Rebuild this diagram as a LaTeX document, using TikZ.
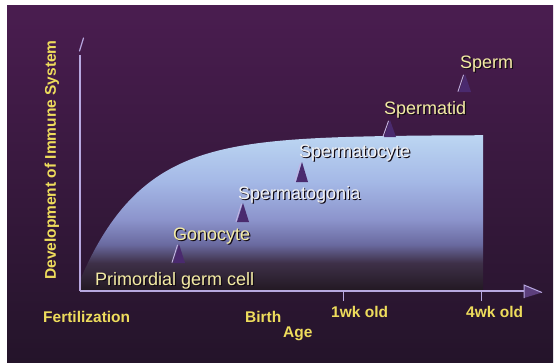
\documentclass[tikz,border=0pt]{standalone}
\usepackage{fontspec}
\setmainfont{Liberation Sans}
\definecolor{bgtop}{HTML}{4A1D50}
\definecolor{bgbot}{HTML}{24142A}
\definecolor{c0}{HTML}{221822}
\definecolor{c1}{HTML}{3E3048}
\definecolor{c2}{HTML}{6A6AA0}
\definecolor{c3}{HTML}{8C94CC}
\definecolor{c4}{HTML}{A4B8E6}
\definecolor{c5}{HTML}{BCD6F2}
\definecolor{axiscol}{HTML}{B8A8E0}
\definecolor{axislab}{HTML}{EEDC5C}
\definecolor{stagey}{HTML}{F4ECA4}
\definecolor{stagew}{HTML}{F2F2F2}
\definecolor{tricol}{HTML}{4A2A6E}
\definecolor{trilight}{HTML}{C4B4E4}
\definecolor{shadowcol}{HTML}{120A14}
\pgfdeclareverticalshading{immuneshade}{100bp}{color(0bp)=(c0); color(25bp)=(c0); color(34bp)=(c1); color(40bp)=(c2); color(48bp)=(c3); color(60bp)=(c4); color(75bp)=(c5); color(100bp)=(c5)}
\tikzset{
  axislabel/.style={inner sep=0pt, anchor=base west, text=axislab, font=\fontsize{15.5}{17}\selectfont\bfseries},
  stagelabel/.style={inner sep=0pt, anchor=base west, font=\fontsize{18}{20}\selectfont},
  stageshadow/.style={stagelabel, text=shadowcol},
  axisline/.style={draw=axiscol, line width=1.2pt},
  tickline/.style={draw=axiscol, line width=1pt},
  tri/.style={fill=tricol},
  trislash/.style={draw=trilight, line width=0.9pt, line cap=round}
}
\newcommand{\stage}[4]{%
  \node[stageshadow] at ([shift={(1.1,1.1)}]#2) {#4};
  \node[stagelabel, text=#3] (#1) at (#2) {#4};}
\newcommand{\uptri}[3]{% center x, apex y, base y
  \fill[tri] (#1,#2) -- ({#1+6},#3) -- ({#1-6},#3) -- cycle;
  \draw[trislash] ({#1-7},{#3-0.5}) -- ({#1-1.5},{#2+1});}
\begin{document}
\begin{tikzpicture}[x=1pt,y=-1pt]
\useasboundingbox (0,0) rectangle (558,364);
\fill[white] (0,0) rectangle (558,364);
\shade[top color=bgtop, bottom color=bgbot] (7,5) rectangle (553,362);
% development curve
\shade[shading=immuneshade] (80,291) -- (80,279) -- plot[domain=81:483, samples=90, smooth] (\x,{135+150*exp(-(\x-78)/62)}) -- (483,291) -- cycle;
% axes
\coordinate (O) at (80,291);
\coordinate (ytop) at (80,55);
\coordinate (xend) at (524,291);
\coordinate (ys1) at (83.5,38);
\coordinate (ys2) at (79.5,51);
\draw[axisline] (O) -- (ytop);
\draw[axisline, line cap=round] (ys1) -- (ys2);
\draw[axisline] (O) -- (xend);
\coordinate (ah1) at (524,285);
\coordinate (ah2) at (542,292.5);
\coordinate (ah3) at (524,298);
\fill[tricol!90!white] (ah1) -- (ah2) -- (ah3) -- cycle;
\draw[draw=axiscol, line width=1pt] (ah3) -- (ah1) -- (ah2);
\coordinate (t1a) at (343,291);
\coordinate (t1b) at (343,301);
\coordinate (t2a) at (481,291);
\coordinate (t2b) at (481,301);
\draw[tickline] (t1a) -- (t1b);
\draw[tickline] (t2a) -- (t2b);
% axis labels
\node[axislabel] (fert) at (43,322) {Fertilization};
\node[axislabel] (birth) at (245,322) {Birth};
\node[axislabel] (wk1) at (331,317) {1wk old};
\node[axislabel] (wk4) at (466,317) {4wk old};
\node[axislabel] (age) at (283,337) {Age};
\node[inner sep=0pt, anchor=base, rotate=90, text=axislab, font=\fontsize{15.5}{17}\selectfont\bfseries] (ylab) at (56,160) {Development of Immune System};
% triangles
\uptri{179}{244}{263}
\uptri{243}{203}{222}
\uptri{302}{162}{182}
\uptri{390}{120}{137}
\uptri{465}{74}{92}
% stage labels
\stage{pgc}{95,285}{stagey}{Primordial germ cell}
\stage{gono}{173,240}{stagey}{Gonocyte}
\stage{spgonia}{238,199}{stagew}{Spermatogonia}
\stage{spcyte}{299,157}{stagew}{Spermatocyte}
\stage{sptid}{384,114}{stagey}{Spermatid}
\stage{sperm}{460,68}{stagey}{Sperm}
\end{tikzpicture}
\end{document}
